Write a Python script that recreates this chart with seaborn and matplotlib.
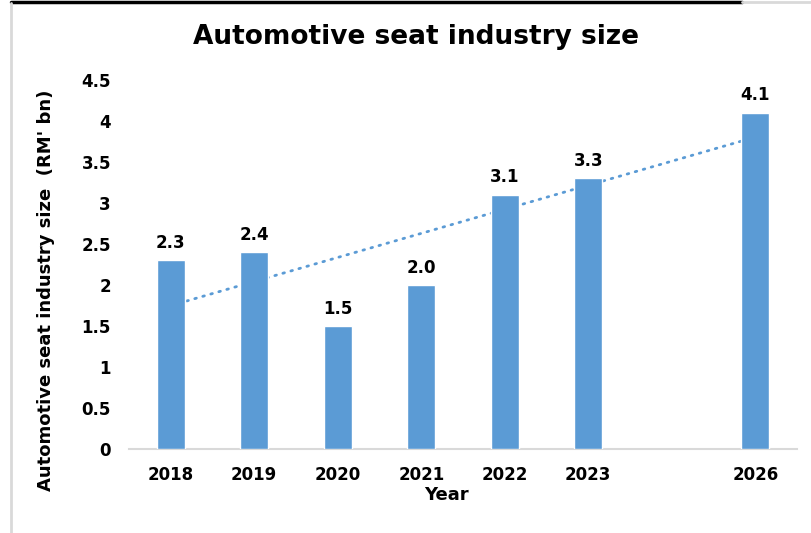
import numpy as np
import pandas as pd
import seaborn as sns
import matplotlib.pyplot as plt
from matplotlib.lines import Line2D

years = ["2018", "2019", "2020", "2021", "2022", "2023", "2026"]
values = [2.3, 2.4, 1.5, 2.0, 3.1, 3.3, 4.1]
slot_order = ["2018", "2019", "2020", "2021", "2022", "2023", " ", "2026"]
y_ticks = [0, 0.5, 1, 1.5, 2, 2.5, 3, 3.5, 4, 4.5]

sns.set_theme(style="white")
plt.rcParams['font.family'] = ['DejaVu Sans']
plt.rcParams['text.color'] = 'black'
plt.rcParams['axes.labelcolor'] = 'black'
plt.rcParams['xtick.color'] = 'black'
plt.rcParams['ytick.color'] = 'black'

df = pd.DataFrame({"Year": years, "Size": values})

W, H = 811, 533
fig = plt.figure(figsize=(W / 100, H / 100), dpi=100)
ax = fig.add_axes([129 / W, 1 - 449 / H, (797 - 129) / W, (449 - 80) / H])

bar_color = "#5B9BD5"
sns.barplot(data=df, x="Year", y="Size", order=slot_order, color=bar_color,
            width=0.33, saturation=1, ax=ax, zorder=3)

# linear trendline over slot positions
pos = np.array([slot_order.index(y) for y in years], dtype=float)
m, b = np.polyfit(pos, values, 1)
xs = np.array([pos.min(), pos.max()])
ax.plot(xs, m * xs + b, linestyle=(0, (0.6, 2.4)), color=bar_color, lw=2.0,
        dash_capstyle="round", zorder=2)

for p, v in zip(pos, values):
    ax.annotate(f"{v:.1f}", (p, v), xytext=(0, 6), textcoords="offset points",
                ha="center", va="bottom", fontsize=12, fontweight="bold",
                color="black")

ax.set_xlim(-0.5, len(slot_order) - 0.5)
ax.set_ylim(0, 4.5)
ax.set_yticks(y_ticks)
ax.set_yticklabels([f"{t:g}" for t in y_ticks], fontsize=12, fontweight="bold")
ax.tick_params(axis="y", length=0, pad=13)
ax.tick_params(axis="x", length=0, pad=12, labelsize=12)
for lab in ax.get_xticklabels():
    lab.set_fontweight("bold")
for s in ["left", "right", "top"]:
    ax.spines[s].set_visible(False)
ax.spines["bottom"].set_color("#D9D9D9")
ax.spines["bottom"].set_linewidth(1.5)
ax.set_xlabel("Year", fontsize=13, fontweight="bold")
ax.xaxis.set_label_coords((446 - 129) / (797 - 129), -(486 - 449) / (449 - 80))
ax.set_ylabel("Automotive seat industry size  (RM' bn)", fontsize=13,
              fontweight="bold")
ax.yaxis.set_label_coords((55 - 129) / (797 - 129), (449 - 290) / (449 - 80))

fig.text(416 / W, 1 - 37 / H, "Automotive seat industry size", ha="center",
         va="center", fontsize=19, fontweight="bold", color="black")

# screenshot frame lines
fig.add_artist(Line2D([11 / W, 742 / W], [1 - 1.5 / H, 1 - 1.5 / H],
                      transform=fig.transFigure, color="black", lw=2.5))
fig.add_artist(Line2D([742 / W, 1], [1 - 2 / H, 1 - 2 / H],
                      transform=fig.transFigure, color="#D9D9D9", lw=2))
fig.add_artist(Line2D([11 / W, 11 / W], [0, 1 - 3 / H],
                      transform=fig.transFigure, color="#D9D9D9", lw=2))

fig.savefig("out.png", dpi=100)
